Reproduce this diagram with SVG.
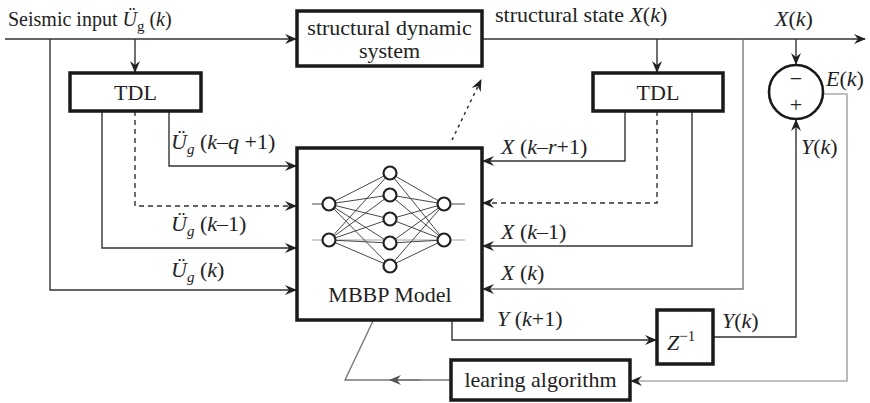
<svg xmlns="http://www.w3.org/2000/svg" width="870" height="403" viewBox="0 0 870 403" font-family="Liberation Serif">
  <defs>
    <marker id="ah" viewBox="0 0 12 10" refX="11" refY="5" markerWidth="12" markerHeight="10" markerUnits="userSpaceOnUse" orient="auto">
      <path d="M0,0 L12,5 L0,10 L4,5 z" fill="#222"/>
    </marker>
    <marker id="ahg" viewBox="0 0 12 10" refX="11" refY="5" markerWidth="12" markerHeight="10" markerUnits="userSpaceOnUse" orient="auto">
      <path d="M0,0 L12,5 L0,10 L4,5 z" fill="#555"/>
    </marker>
  </defs>

  <!-- connectors -->
  <g id="connectors" fill="none" stroke-width="1.4">
    <g stroke="#333">
      <!-- seismic input trunk -->
      <path d="M5,39 H296" marker-end="url(#ah)"/>
      <path d="M50,39 V290 H296" marker-end="url(#ah)"/>
      <path d="M135,39 V72" marker-end="url(#ah)"/>
      <!-- left TDL taps -->
      <path d="M169,111 V166 H296" marker-end="url(#ah)"/>
      <path d="M135,111 V206 H296" stroke-dasharray="5 4" marker-end="url(#ah)"/>
      <path d="M102,111 V248 H296" marker-end="url(#ah)"/>
      <!-- structural state output -->
      <path d="M483,39 H865" marker-end="url(#ah)"/>
      <path d="M657,39 V72" marker-end="url(#ah)"/>
      <path d="M796,39 V64" marker-end="url(#ah)"/>
      <!-- right TDL taps -->
      <path d="M625,111 V161 H483" marker-end="url(#ah)"/>
      <path d="M657,111 V203 H483" stroke-dasharray="5 4" marker-end="url(#ah)"/>
      <path d="M692,111 V246 H483" marker-end="url(#ah)"/>
      <!-- model output through delay -->
      <path d="M452,321 V340 H656" marker-end="url(#ah)"/>
      <path d="M714,337 H796 V120" marker-end="url(#ah)"/>
      <!-- model adjusting the structure -->
      <path d="M452,140 L481,80" stroke-width="1.5" stroke-dasharray="3 4" marker-end="url(#ah)"/>
    </g>
    <g stroke="#777">
      <path d="M743,39 V289 H483" marker-end="url(#ah)"/>
      <!-- learning algorithm back to model -->
      <path d="M451,380 H345 L373,321"/>
      <path d="M420,380 H390" marker-end="url(#ahg)"/>
    </g>
    <!-- error to learning algorithm -->
    <path d="M824,94 H847 V381 H631" stroke="#aaa" stroke-width="1.6" marker-end="url(#ah)"/>
  </g>

  <!-- labels on the signals -->
  <g id="labels" font-family="Liberation Serif" font-size="22" fill="#222">
    <text font-family="Liberation Serif" font-size="20" x="8" y="26">Seismic input <tspan font-family="Liberation Serif" font-style="italic">&#220;</tspan><tspan font-family="Liberation Serif" font-size="15" dy="5">g</tspan><tspan font-family="Liberation Serif" dy="-5"> (</tspan><tspan font-family="Liberation Serif" font-style="italic">k</tspan>)</text>
    <text font-family="Liberation Serif" x="495" y="22">structural state <tspan font-family="Liberation Serif" font-style="italic">X</tspan>(<tspan font-family="Liberation Serif" font-style="italic">k</tspan>)</text>
    <text font-family="Liberation Serif" x="775" y="26"><tspan font-family="Liberation Serif" font-style="italic">X</tspan>(<tspan font-family="Liberation Serif" font-style="italic">k</tspan>)</text>
    <text font-family="Liberation Serif" x="826" y="86"><tspan font-family="Liberation Serif" font-style="italic">E</tspan>(<tspan font-family="Liberation Serif" font-style="italic">k</tspan>)</text>
    <text font-family="Liberation Serif" x="801" y="154"><tspan font-family="Liberation Serif" font-style="italic">Y</tspan>(<tspan font-family="Liberation Serif" font-style="italic">k</tspan>)</text>
    <text font-family="Liberation Serif" x="722" y="328"><tspan font-family="Liberation Serif" font-style="italic">Y</tspan>(<tspan font-family="Liberation Serif" font-style="italic">k</tspan>)</text>
    <text font-family="Liberation Serif" x="171" y="149"><tspan font-family="Liberation Serif" font-style="italic">&#220;</tspan><tspan font-family="Liberation Serif" font-style="italic" font-size="15" dy="5">g</tspan><tspan font-family="Liberation Serif" dy="-5"> (</tspan><tspan font-family="Liberation Serif" font-style="italic">k</tspan>&#8211;<tspan font-family="Liberation Serif" font-style="italic">q</tspan> +1)</text>
    <text font-family="Liberation Serif" x="171" y="231"><tspan font-family="Liberation Serif" font-style="italic">&#220;</tspan><tspan font-family="Liberation Serif" font-style="italic" font-size="15" dy="5">g</tspan><tspan font-family="Liberation Serif" dy="-5"> (</tspan><tspan font-family="Liberation Serif" font-style="italic">k</tspan>&#8211;1)</text>
    <text font-family="Liberation Serif" x="171" y="277"><tspan font-family="Liberation Serif" font-style="italic">&#220;</tspan><tspan font-family="Liberation Serif" font-style="italic" font-size="15" dy="5">g</tspan><tspan font-family="Liberation Serif" dy="-5"> (</tspan><tspan font-family="Liberation Serif" font-style="italic">k</tspan>)</text>
    <text font-family="Liberation Serif" x="501" y="154"><tspan font-family="Liberation Serif" font-style="italic">X</tspan> (<tspan font-family="Liberation Serif" font-style="italic">k</tspan>&#8211;<tspan font-family="Liberation Serif" font-style="italic">r</tspan>+1)</text>
    <text font-family="Liberation Serif" x="501" y="239"><tspan font-family="Liberation Serif" font-style="italic">X</tspan> (<tspan font-family="Liberation Serif" font-style="italic">k</tspan>&#8211;1)</text>
    <text font-family="Liberation Serif" x="501" y="280"><tspan font-family="Liberation Serif" font-style="italic">X</tspan> (<tspan font-family="Liberation Serif" font-style="italic">k</tspan>)</text>
    <text font-family="Liberation Serif" x="497" y="326"><tspan font-family="Liberation Serif" font-style="italic">Y</tspan> (<tspan font-family="Liberation Serif" font-style="italic">k</tspan>+1)</text>
  </g>

  <g id="structural-system" font-family="Liberation Serif" font-size="22" fill="#222" text-anchor="middle">
    <rect x="297" y="11" width="185" height="55" fill="#fff" stroke="#1a1a1a" stroke-width="3.5"/>
    <text font-family="Liberation Serif" x="389.5" y="35">structural dynamic</text>
    <text font-family="Liberation Serif" x="389.5" y="58">system</text>
  </g>

  <g id="tdl-input" font-family="Liberation Serif" font-size="22" fill="#222" text-anchor="middle">
    <rect x="70" y="73" width="131" height="38" fill="#fff" stroke="#1a1a1a" stroke-width="3.5"/>
    <text font-family="Liberation Serif" x="135.5" y="100">TDL</text>
  </g>

  <g id="tdl-state" font-family="Liberation Serif" font-size="22" fill="#222" text-anchor="middle">
    <rect x="593" y="73" width="130" height="38" fill="#fff" stroke="#1a1a1a" stroke-width="3.5"/>
    <text font-family="Liberation Serif" x="658" y="100">TDL</text>
  </g>

  <g id="summing-junction" font-family="Liberation Serif" font-size="22" fill="#222" text-anchor="middle">
    <circle cx="796" cy="92" r="27" fill="#fff" stroke="#1a1a1a" stroke-width="2.6"/>
    <text font-family="Liberation Serif" x="796" y="86">&#8722;</text>
    <text font-family="Liberation Serif" x="796" y="112">+</text>
  </g>

  <g id="mbbp-model">
    <rect x="297" y="148" width="185" height="172" fill="#fff" stroke="#1a1a1a" stroke-width="3.5"/>
    <g stroke="#333" stroke-width="0.9">
      <line x1="312" y1="204" x2="323" y2="204"/>
      <line x1="312" y1="240" x2="465" y2="240" stroke="#999"/>
      <line x1="450" y1="204" x2="465" y2="204"/>
      <!-- input to hidden -->
      <line x1="329" y1="204" x2="390" y2="173"/><line x1="329" y1="204" x2="390" y2="195"/>
      <line x1="329" y1="204" x2="390" y2="219"/><line x1="329" y1="204" x2="390" y2="243"/>
      <line x1="329" y1="204" x2="390" y2="266"/>
      <line x1="329" y1="240" x2="390" y2="173"/><line x1="329" y1="240" x2="390" y2="195"/>
      <line x1="329" y1="240" x2="390" y2="219"/><line x1="329" y1="240" x2="390" y2="243"/>
      <line x1="329" y1="240" x2="390" y2="266"/>
      <!-- hidden to output -->
      <line x1="390" y1="173" x2="444" y2="204"/><line x1="390" y1="195" x2="444" y2="204"/>
      <line x1="390" y1="219" x2="444" y2="204"/><line x1="390" y1="243" x2="444" y2="204"/>
      <line x1="390" y1="266" x2="444" y2="204"/>
      <line x1="390" y1="173" x2="444" y2="240"/><line x1="390" y1="195" x2="444" y2="240"/>
      <line x1="390" y1="219" x2="444" y2="240"/><line x1="390" y1="243" x2="444" y2="240"/>
      <line x1="390" y1="266" x2="444" y2="240"/>
    </g>
    <g fill="#fff" stroke="#222" stroke-width="2.2">
      <circle cx="329" cy="204" r="6.5"/>
      <circle cx="329" cy="240" r="6.5"/>
      <circle cx="390" cy="173" r="6.5"/>
      <circle cx="390" cy="195" r="6.5"/>
      <circle cx="390" cy="219" r="6.5"/>
      <circle cx="390" cy="243" r="6.5"/>
      <circle cx="390" cy="266" r="6.5"/>
      <circle cx="444" cy="204" r="6.5"/>
      <circle cx="444" cy="240" r="6.5"/>
    </g>
    <text font-family="Liberation Serif" font-size="22" fill="#222" text-anchor="middle" x="390" y="302">MBBP Model</text>
  </g>

  <g id="delay">
    <rect x="657" y="310" width="56" height="54" fill="#fff" stroke="#1a1a1a" stroke-width="3.5"/>
    <text font-family="Liberation Serif" font-size="22" fill="#222" x="667" y="350"><tspan font-family="Liberation Serif" font-style="italic">Z</tspan><tspan font-family="Liberation Serif" font-size="15" dy="-9">&#8722;1</tspan></text>
  </g>

  <g id="learning-algorithm">
    <rect x="451" y="360" width="179" height="40" fill="#fff" stroke="#1a1a1a" stroke-width="3.5"/>
    <text font-family="Liberation Serif" font-size="22" fill="#222" text-anchor="middle" x="540.5" y="387">learing algorithm</text>
  </g>
</svg>
